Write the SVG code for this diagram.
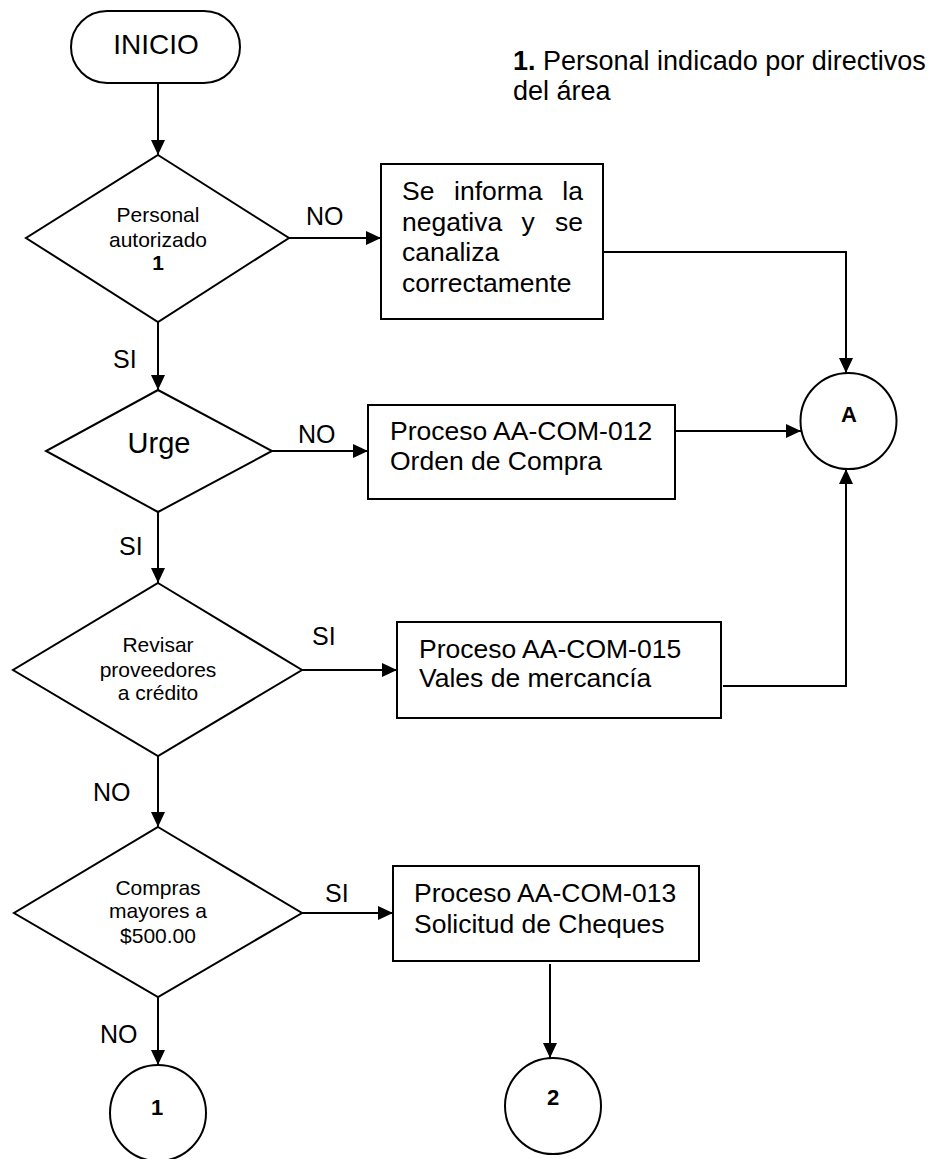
<svg xmlns="http://www.w3.org/2000/svg" width="928" height="1159" viewBox="0 0 928 1159">
<defs>
<marker id="arr" markerWidth="15" markerHeight="14" refX="15" refY="7" orient="auto" markerUnits="userSpaceOnUse"><path d="M0,0 L15,7 L0,14 z" fill="#000"/></marker>
<style>
.s{fill:#fff;stroke:#000;stroke-width:2}
.c{fill:none;stroke:#000;stroke-width:2;marker-end:url(#arr)}
text{font-family:"Liberation Sans",Arial,sans-serif;fill:#000}
.lbl{font-size:25px}
.bx{font-size:26.5px}
.dt{font-size:21px;text-anchor:middle}
.ct{font-size:22px;font-weight:bold;text-anchor:middle}
</style>
</defs>
<rect width="928" height="1159" fill="#fff"/>
<g id="connectors">
<path class="c" d="M158,83 V155"/>
<path class="c" d="M289,238 H381"/>
<path class="c" d="M603,252 H846 V373"/>
<path class="c" d="M158,322 V390"/>
<path class="c" d="M272,451 H368"/>
<path class="c" d="M675,431 H801"/>
<path class="c" d="M158,512 V583"/>
<path class="c" d="M302,670 H397"/>
<path class="c" d="M723,686 H846 V469"/>
<path class="c" d="M158,756 V827"/>
<path class="c" d="M302,913 H393"/>
<path class="c" d="M550,964 V1058"/>
<path class="c" d="M158,997 V1065"/>
<text class="lbl" x="306" y="225">NO</text>
<text class="lbl" x="113" y="368">SI</text>
<text class="lbl" x="298" y="443">NO</text>
<text class="lbl" x="119" y="555">SI</text>
<text class="lbl" x="312" y="645">SI</text>
<text class="lbl" x="93" y="801">NO</text>
<text class="lbl" x="325" y="902">SI</text>
<text class="lbl" x="100" y="1043">NO</text>
</g>
<g id="inicio">
<rect class="s" x="71" y="11" width="169" height="72" rx="36" ry="36"/>
<text x="156" y="54" font-size="28" text-anchor="middle">INICIO</text>
</g>
<g id="nota">
<text x="513" y="70" font-size="27"><tspan font-weight="bold">1.</tspan> Personal indicado por directivos</text>
<text x="513" y="100" font-size="27">del área</text>
</g>
<g id="d-personal">
<polygon class="s" points="158,155 289,238 158,322 26,238"/>
<text class="dt" x="158" y="222">Personal</text>
<text class="dt" x="158" y="247">autorizado</text>
<text class="dt" x="158" y="270" font-weight="bold">1</text>
</g>
<g id="b-informa">
<rect class="s" x="381" y="164" width="222" height="155"/>
<text class="bx" x="402" y="200">Se</text>
<text class="bx" x="454" y="200">informa</text>
<text class="bx" x="583" y="200" text-anchor="end">la</text>
<text class="bx" x="402" y="230.5">negativa</text>
<text class="bx" x="521.5" y="230.5">y</text>
<text class="bx" x="583" y="230.5" text-anchor="end">se</text>
<text class="bx" x="402" y="261">canaliza</text>
<text class="bx" x="402" y="291.5">correctamente</text>
</g>
<g id="c-A">
<circle class="s" cx="848.5" cy="421" r="48"/>
<text class="ct" x="849" y="422" font-size="23">A</text>
</g>
<g id="d-urge">
<polygon class="s" points="158,390 272,451 158,512 46,451"/>
<text x="159" y="453" font-size="29" text-anchor="middle">Urge</text>
</g>
<g id="b-012">
<rect class="s" x="368" y="405" width="307" height="94"/>
<text class="bx" x="390" y="440">Proceso AA-COM-012</text>
<text class="bx" x="390" y="470">Orden de Compra</text>
</g>
<g id="d-revisar">
<polygon class="s" points="158,583 302,670 158,756 13,670"/>
<text class="dt" x="158" y="652">Revisar</text>
<text class="dt" x="158" y="677">proveedores</text>
<text class="dt" x="158" y="700">a crédito</text>
</g>
<g id="b-015">
<rect class="s" x="397" y="622" width="324" height="96"/>
<text class="bx" x="419" y="658">Proceso AA-COM-015</text>
<text class="bx" x="419" y="687">Vales de mercancía</text>
</g>
<g id="d-compras">
<polygon class="s" points="158,827 302,913 158,997 14,913"/>
<text class="dt" x="158" y="895">Compras</text>
<text class="dt" x="158" y="918">mayores a</text>
<text class="dt" x="158" y="943">$500.00</text>
</g>
<g id="b-013">
<rect class="s" x="393" y="866" width="306" height="95"/>
<text class="bx" x="414" y="902">Proceso AA-COM-013</text>
<text class="bx" x="414" y="933">Solicitud de Cheques</text>
</g>
<g id="c-1">
<circle class="s" cx="158" cy="1113" r="48"/>
<text class="ct" x="157" y="1115">1</text>
</g>
<g id="c-2">
<circle class="s" cx="553" cy="1106" r="48"/>
<text class="ct" x="553" y="1105">2</text>
</g>
</svg>
